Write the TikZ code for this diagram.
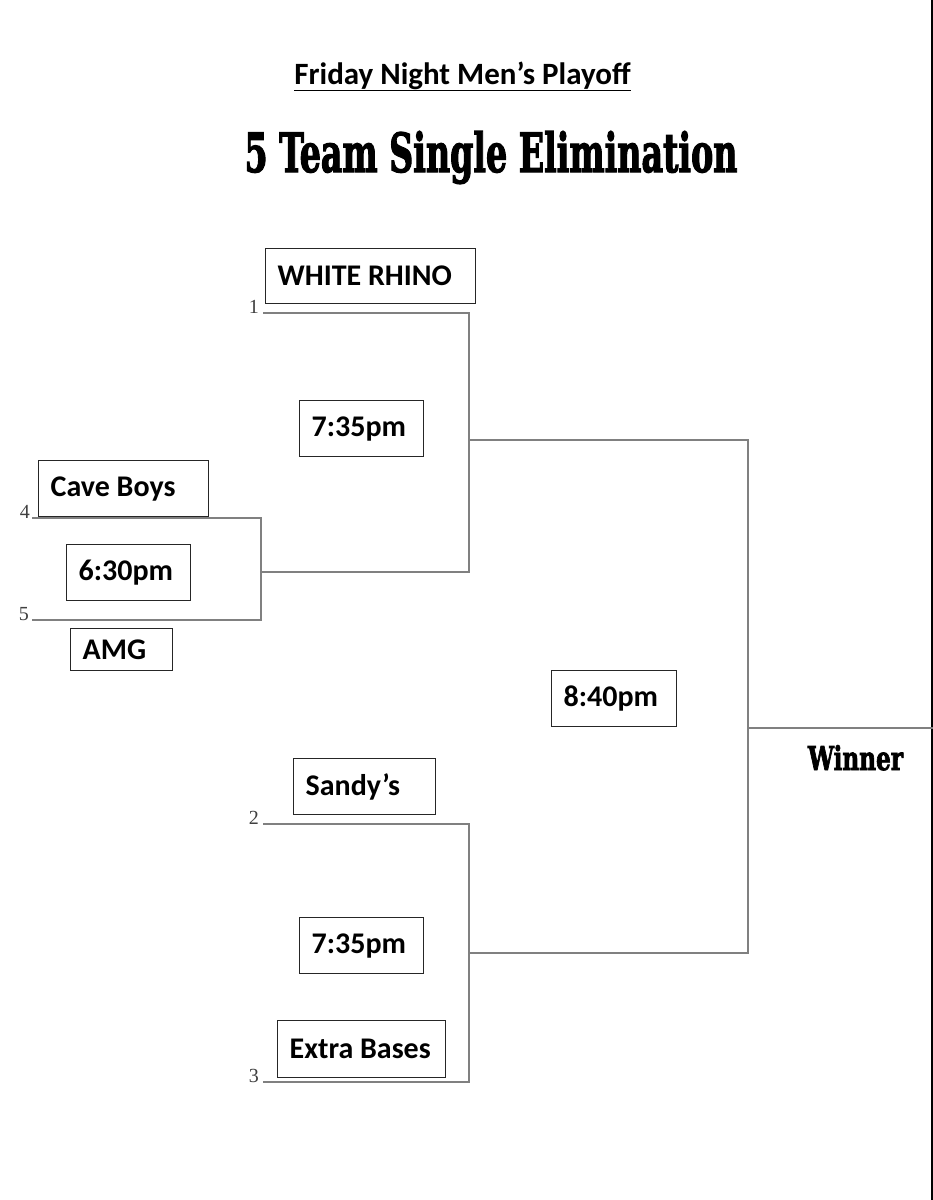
\documentclass[tikz,border=0pt]{standalone}
\usepackage{fontspec}
\setmainfont{Carlito}
\newfontfamily\headfont[BoldFeatures={FakeBold=2.5}]{DejaVu Serif Condensed}
\newfontfamily\numfont{Liberation Serif}
\usepackage{graphicx}
\begin{document}
\begin{tikzpicture}[x=1pt,y=-1pt,
  bline/.style={draw=black!50,line width=2.4pt},
  team/.style={draw=black!85,line width=1.4pt,inner xsep=12pt,inner ysep=0pt,
     font=\fontsize{30}{32}\selectfont\bfseries,anchor=north west},
  seed/.style={font=\numfont\fontsize{20}{20}\selectfont,text=black!75,inner sep=0pt,anchor=base east}]
\useasboundingbox (0,0) rectangle (933,1200);
\fill[white] (0,0) rectangle (933,1200);
% right page edge
\draw[line width=2pt] (931.5,0) -- (931.5,1200);
% titles
\node[inner sep=0pt,anchor=base] (title) at (462.5,84) {\fontsize{31}{33}\selectfont\bfseries\underline{Friday Night Men’s Playoff}};
\node[inner sep=0pt,anchor=base] (head) at (491,172) {\resizebox{493pt}{41pt}{\headfont\bfseries 5 Team Single Elimination}};
\node[inner sep=0pt,anchor=base] (winner) at (855.5,770) {\resizebox{95pt}{25pt}{\headfont\bfseries Winner}};
% bracket coordinates
\coordinate (s1a) at (263,313); \coordinate (s1b) at (469,313);
\coordinate (s4a) at (32,518); \coordinate (s4b) at (261,518);
\coordinate (s5a) at (32,620); \coordinate (s5b) at (261,620);
\coordinate (q1) at (261,572); \coordinate (q1b) at (469,572);
\coordinate (sf1) at (469,440); \coordinate (sf1b) at (748,440);
\coordinate (s2a) at (263,824); \coordinate (s2b) at (469,824);
\coordinate (s3a) at (263,1082); \coordinate (s3b) at (469,1082);
\coordinate (sf2) at (469,953); \coordinate (sf2b) at (748,953);
\coordinate (f) at (748,728); \coordinate (fw) at (933,728);
\draw[bline] (s1a) -- (s1b) -- (q1b) -- (q1);
\draw[bline] (s4a) -- (s4b) -- (s5b) -- (s5a);
\draw[bline] (sf1) -- (sf1b) -- (sf2b) -- (sf2);
\draw[bline] (s2a) -- (s2b) -- (s3b) -- (s3a);
\draw[bline] (f) -- (fw);
% seeds
\node[seed] (n1) at (259,313) {1};
\node[seed] (n4) at (30,518) {4};
\node[seed] (n5) at (29,620) {5};
\node[seed] (n2) at (259,824) {2};
\node[seed] (n3) at (259,1082) {3};
% boxes
\node[team,minimum height=55pt] (wr) at (265,248) {\makebox[186pt][l]{WHITE RHINO}};
\node[team,minimum height=56pt] (t735a) at (299,400) {\makebox[100pt][l]{7:35pm}};
\node[team,minimum height=56pt] (cave) at (38,460) {\makebox[146pt][l]{Cave Boys}};
\node[team,minimum height=56pt] (t630) at (66,544) {\makebox[100pt][l]{6:30pm}};
\node[team,minimum height=42pt] (amg) at (70,628) {\makebox[78pt][l]{AMG}};
\node[team,minimum height=56pt] (t840) at (551,670) {\makebox[101pt][l]{8:40pm}};
\node[team,minimum height=56pt] (sandy) at (293,758) {\makebox[118pt][l]{Sandy’s}};
\node[team,minimum height=56pt] (t735b) at (299,917) {\makebox[100pt][l]{7:35pm}};
\node[team,minimum height=57pt] (extra) at (277,1020) {\makebox[144pt][l]{Extra Bases}};
\end{tikzpicture}
\end{document}
